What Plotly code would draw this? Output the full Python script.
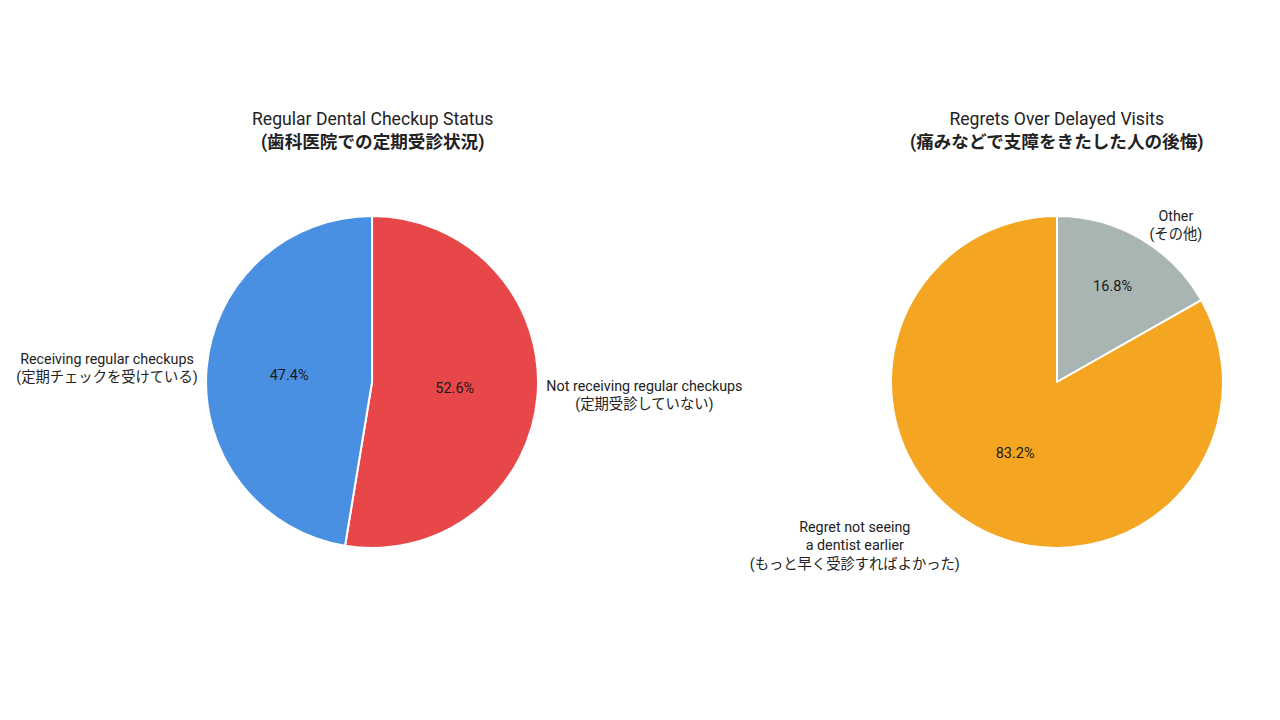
import plotly.graph_objects as go

checkup_labels = ["Not receiving regular checkups<br>(定期受診していない)",
                  "Receiving regular checkups<br>(定期チェックを受けている)"]
checkup_values = [52.6, 47.4]
checkup_colors = ["#E8474A", "#4A90E2"]

regret_labels = ["Other<br>(その他)",
                 "Regret not seeing<br>a dentist earlier<br>(もっと早く受診すればよかった)"]
regret_values = [16.8, 83.2]
regret_colors = ["#A9B5B3", "#F4A623"]

titles = ["Regular Dental Checkup Status<br><b>(歯科医院での定期受診状況)</b>",
          "Regrets Over Delayed Visits<br><b>(痛みなどで支障をきたした人の後悔)</b>"]

font_family = "Roboto, 'Noto Sans CJK JP', sans-serif"

left_domain = dict(x=[0.1547, 0.4141], y=[0.25, 0.7111])
right_domain = dict(x=[0.6898, 0.9492], y=[0.25, 0.7111])

fig = go.Figure()


def add_pie(labels, values, colors, domain):
    # percentages inside the slices
    fig.add_trace(go.Pie(
        labels=labels, values=values, domain=domain,
        sort=False, direction="clockwise", rotation=0,
        marker=dict(colors=colors, line=dict(color="white", width=2)),
        textinfo="percent", textposition="inside",
        texttemplate="%{percent:.1%}",
        insidetextorientation="horizontal",
        insidetextfont=dict(size=14.5, color="#1a1a1a", family=font_family),
        showlegend=False, hoverinfo="label+percent",
    ))
    # category labels outside the slices
    fig.add_trace(go.Pie(
        labels=labels, values=values, domain=domain,
        sort=False, direction="clockwise", rotation=0,
        marker=dict(colors=["rgba(0,0,0,0)"] * len(values)),
        textinfo="label", textposition="outside",
        outsidetextfont=dict(size=14.3, color="#222222", family=font_family),
        showlegend=False, hoverinfo="skip", automargin=False,
    ))


add_pie(checkup_labels, checkup_values, checkup_colors, left_domain)
add_pie(regret_labels, regret_values, regret_colors, right_domain)

fig.update_layout(
    width=1280, height=720,
    margin=dict(l=0, r=0, t=0, b=0),
    paper_bgcolor="white", plot_bgcolor="white",
    font=dict(family=font_family, size=13, color="#222222"),
    annotations=[
        dict(text=titles[0], x=0.2844, y=0.8285, xref="paper", yref="paper",
             xanchor="center", yanchor="middle", showarrow=False,
             font=dict(size=17.6, color="#222222")),
        dict(text=titles[1], x=0.8195, y=0.8285, xref="paper", yref="paper",
             xanchor="center", yanchor="middle", showarrow=False,
             font=dict(size=17.6, color="#222222")),
    ],
)

fig.write_html("out.html")
